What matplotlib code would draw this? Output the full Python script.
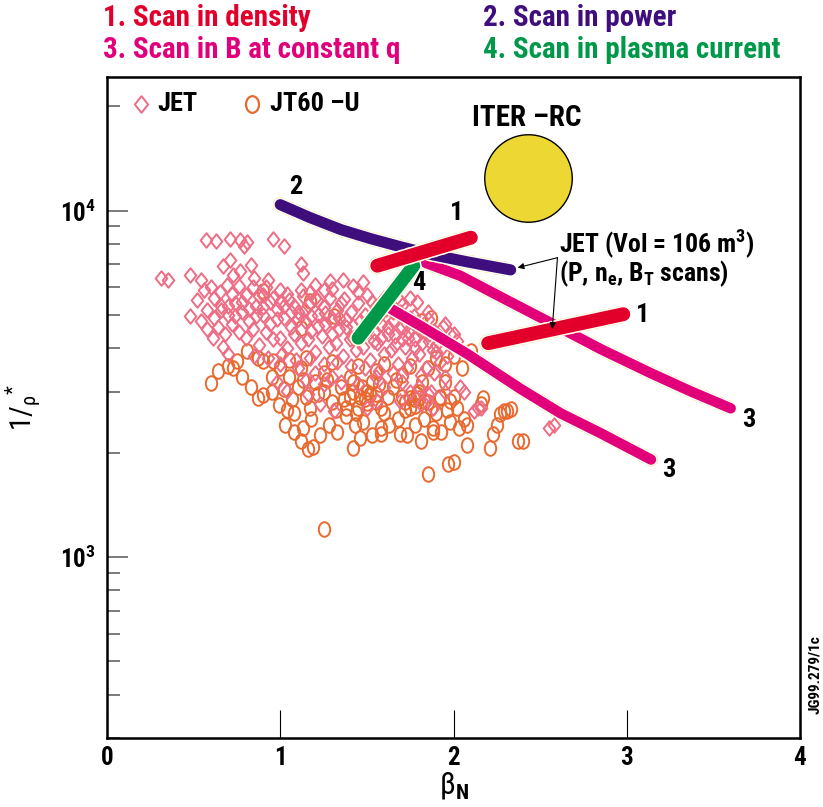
import matplotlib
matplotlib.use("Agg")
import matplotlib.pyplot as plt
from matplotlib import font_manager
from matplotlib.path import Path
from matplotlib.transforms import Affine2D
import matplotlib.patheffects as pe


def pick_font(names):
    for n in names:
        try:
            font_manager.findfont(n, fallback_to_default=False)
            return n
        except Exception:
            pass
    return "DejaVu Sans"


FONT = pick_font(["Liberation Sans Narrow", "Roboto Condensed", "Liberation Sans"])
plt.rcParams['font.family'] = [FONT, 'DejaVu Sans']
plt.rcParams['mathtext.fontset'] = 'custom'
plt.rcParams['mathtext.rm'] = FONT
plt.rcParams['mathtext.bf'] = FONT + ':bold'
plt.rcParams['mathtext.it'] = FONT + ':italic'
plt.rcParams['lines.scale_dashes'] = False

# ---- data (beta_N, 1/rho*) ----
jet_beta = [0.57, 0.63, 0.71, 0.77, 0.79, 0.81, 0.96, 1.02,
            0.31, 0.35, 0.48, 0.54, 0.56, 0.52,
            0.67, 0.71, 0.73, 0.77, 0.83, 0.85,
            0.93, 1.00, 1.12, 1.13, 1.12, 1.17, 1.29, 1.36, 1.42, 1.48, 1.50,
            0.48, 0.54, 0.58, 0.61, 0.67, 0.70,
            0.62, 0.66, 0.70, 0.74, 0.78, 0.82, 0.86, 0.90, 0.94, 0.98, 1.02,
            1.06, 1.10, 1.14, 1.18, 1.22, 1.26, 1.30, 1.34, 1.38, 1.42, 1.46,
            1.50, 1.54, 1.58, 1.62, 1.66, 1.70, 1.74, 1.78, 1.82, 1.86, 1.90,
            0.80, 0.88, 0.96, 1.04, 1.12, 1.20, 1.28, 1.36, 1.44, 1.52, 1.60,
            1.68, 1.76, 1.84, 1.92,
            0.90, 1.05, 1.20, 1.35, 1.55, 1.65, 1.75, 1.85, 1.95, 1.98,
            1.00, 1.10, 1.20, 1.30, 1.55, 1.70, 1.80, 1.95,
            1.69, 1.75, 1.79, 1.94, 2.00, 2.02, 2.06, 1.87,
            0.98, 1.04, 1.16, 1.23, 1.31, 1.50, 1.56, 1.69, 1.81, 1.88,
            2.04, 2.12, 2.16, 2.14, 2.55, 2.58,
            0.60, 0.65, 0.69, 0.72, 0.76, 0.80, 0.84, 0.88, 0.92, 0.96, 1.00,
            1.04, 1.08, 1.13, 1.16, 1.21, 1.25, 1.29, 1.33, 1.37, 1.41, 1.45,
            1.49, 1.53, 1.57, 1.61, 1.65, 1.69, 1.73, 1.77, 1.81, 1.85, 1.89,
            1.93,
            0.64, 0.68, 0.72, 0.76, 0.84, 0.92, 1.00, 1.08, 1.16, 1.24, 1.32,
            1.40, 1.48, 1.56, 1.64, 1.72, 1.80, 1.88, 1.96,
            0.85, 0.93, 1.01, 1.09, 1.17, 1.25, 1.33, 1.41, 1.49, 1.57, 1.65,
            1.73, 1.81, 1.89,
            1.15, 1.25, 1.35, 1.45, 1.60, 1.75, 1.85, 1.95,
            0.58, 0.62, 0.66, 0.70, 0.74, 0.78, 0.82, 0.86, 0.90, 0.94, 0.98,
            1.02, 1.06, 1.10, 1.14, 1.18, 1.22, 1.26, 1.30, 1.34, 1.38, 1.42,
            1.46, 1.50, 1.54, 1.58, 1.62, 1.66, 1.70, 1.74, 1.78, 1.82, 1.86,
            1.90,
            1.20, 1.25, 1.30, 1.45, 1.60, 1.70]
jet_inv_rho = [8200, 8150, 8250, 8200, 7900, 8100, 8250, 7900,
               6400, 6300, 6500, 6300, 5900, 5500,
               6900, 7200, 6500, 6700, 6950, 6400,
               6300, 5900, 7000, 6600, 5900, 5800, 6250, 6300, 6050, 6200, 5700,
               4950, 4800, 4550, 4300, 4050, 3850,
               5600, 5300, 5000, 5400, 5100, 4800, 5300, 5000, 4700, 5200, 4900,
               4600, 5100, 4800, 4500, 5000, 4700, 4400, 4900, 4600, 4300, 4800,
               4500, 4200, 4700, 4400, 4100, 4600, 4300, 4000, 4500, 4200, 3900,
               4300, 4100, 4250, 4000, 4150, 3900, 4050, 3800, 3950, 3700, 3850,
               3600, 3750, 3500, 3650,
               5700, 5500, 5600, 5400, 5300, 5100, 4900, 5100, 4700, 4400,
               3600, 3500, 3400, 3300, 3300, 3200, 3100, 3300,
               5480, 5600, 5450, 4600, 4400, 4200, 3000, 3000,
               3200, 3010, 2950, 2770, 2630, 2690, 2810, 2810, 2760, 2690,
               3100, 2630, 2690, 2700, 2350, 2400,
               6000, 5800, 6100, 5750, 6050, 5700, 6000, 5650, 6000, 5600, 5450,
               5750, 5300, 5650, 5350, 5500, 5250, 5600, 5150, 5550, 5100, 5400,
               5000, 5450, 4950, 5200, 4800, 5100, 4700, 4950, 4600, 4850, 4500,
               4300,
               4600, 4400, 4700, 4450, 4550, 4450, 4300, 4400, 4250, 4350, 4150,
               4250, 4050, 4150, 3950, 4050, 3850, 3950, 3800,
               3800, 3750, 3850, 3700, 3750, 3600, 3650, 3550, 3500, 3450, 3400,
               3500, 3350, 3400,
               3250, 3150, 3200, 3150, 3100, 3000, 2950, 3000,
               5150, 4900, 5150, 5300, 4950, 5450, 5200, 4950, 5250, 5450, 4850,
               5300, 5100, 4850, 5150, 4950, 4650, 5050, 4800, 4550, 4850, 4650,
               4450, 4700, 4450, 4300, 4600, 4350, 4250, 4500, 4250, 4150, 4400,
               4100,
               6100, 5900, 5950, 5800, 5600, 5350]

jt60_beta = [0.60, 0.64, 0.70, 0.73, 0.75,
             0.87, 0.90, 0.81, 0.87, 0.90, 0.96,
             1.08, 1.12, 1.16, 1.19,
             0.90, 1.12, 1.17, 1.31,
             1.05, 1.10, 1.15, 1.20, 1.25, 1.30, 1.35, 1.40, 1.45, 1.50,
             1.55, 1.60, 1.65, 1.70, 1.75, 1.80, 1.85, 1.90, 1.95, 2.00,
             1.08, 1.18, 1.28, 1.38, 1.48, 1.58, 1.68, 1.78, 1.88, 1.98,
             1.12, 1.25, 1.40, 1.55, 1.70, 1.85, 1.95,
             1.42, 1.47, 1.52, 1.57, 1.75, 1.79, 1.83,
             1.42, 1.46, 1.58, 1.69, 1.81, 1.88, 1.98,
             1.85, 1.97, 2.00, 2.08, 2.21, 2.23, 2.27, 2.31, 2.37,
             1.81, 1.87, 2.10, 1.92, 2.08, 2.29, 2.33, 2.40, 2.25, 2.17,
             2.16, 1.25,
             1.02, 1.07, 1.13, 1.17, 1.22, 1.27, 1.32, 1.37, 1.42, 1.44, 1.49,
             1.53, 1.58, 1.62, 1.67, 1.72, 1.77, 1.82, 1.87, 1.92, 1.96, 2.02,
             2.06,
             1.03, 1.13, 1.23, 1.33, 1.43, 1.53, 1.63, 1.73, 1.83, 1.93, 2.03,
             0.95, 1.00, 1.05, 1.15, 1.30, 1.45, 1.60, 1.75, 1.90, 2.00, 2.05,
             1.38, 1.46, 1.50, 1.55, 1.72, 1.78, 1.80,
             0.78, 0.83, 0.95, 0.99, 1.04]
jt60_inv_rho = [3175, 3440, 3560, 3500, 3680,
                2870, 2940, 3930, 3740, 3670, 3670,
                2300, 2155, 2050, 2080,
                5860, 4580, 5480, 4950,
                3300, 3100, 2900, 3200, 3000, 2800, 3100, 2900, 2700, 3000,
                2800, 2600, 3100, 2900, 2700, 3000, 2800, 2600, 3200, 2900,
                2600, 2500, 2400, 2550, 2450, 2350, 2500, 2400, 2300, 2450,
                3500, 3400, 3300, 3450, 3350, 3500, 3600,
                3000, 3100, 2950, 3150, 2870, 2950, 2820,
                2060, 2200, 2260, 2260, 2155, 2350, 2810,
                1730, 1850, 1885, 2110, 2060, 2260, 2580, 2630, 2155,
                4800, 4890, 3930, 2870, 2410, 2630, 2680, 2155, 2410, 2870,
                2760, 1205,
                3050, 2850, 3250, 2700, 2950, 3250, 2650, 2850, 3200, 2600, 2850,
                3200, 2700, 2900, 3250, 2650, 2850, 3200, 2700, 2900, 2650, 2700,
                2500,
                2400, 2350, 2250, 2300, 2400, 2250, 2400, 2250, 2500, 2300, 2350,
                3300, 3500, 3700, 3750, 3650, 3550, 3600, 3550, 3750, 3800, 3500,
                2700, 2900, 2780, 2950, 2800, 2720, 2880,
                3300, 3100, 3000, 2750, 2650]

# scans
power_beta = [1.00, 1.17, 1.35, 1.52, 1.69, 1.88, 2.08, 2.33]
power_inv_rho = [10400, 9550, 8810, 8300, 7870, 7450, 7110, 6740]
dens_hi_beta = [1.56, 2.10]
dens_hi_inv_rho = [6930, 8350]
dens_lo_beta = [2.20, 2.98]
dens_lo_inv_rho = [4140, 5020]
curr_beta = [1.45, 1.77]
curr_inv_rho = [4285, 6930]
bt_hi_beta = [1.84, 2.04, 2.27, 2.54, 2.85, 3.14, 3.37, 3.60]
bt_hi_inv_rho = [7060, 6480, 5640, 4800, 3980, 3390, 3005, 2685]
bt_lo_beta = [1.64, 1.81, 2.08, 2.39, 2.62, 2.85, 3.14]
bt_lo_inv_rho = [5200, 4645, 3855, 3050, 2595, 2275, 1910]

iter_beta, iter_inv_rho = 2.43, 12390

C_DENS = '#E2002B'
C_POW = '#3F0E7D'
C_BT = '#E2007A'
C_CUR = '#00994A'
C_JET = '#EE6C84'
C_JT60 = '#E8692F'

fig = plt.figure(figsize=(8.23, 8.07), dpi=100)
ax = fig.add_axes([107 / 823, 1 - 738 / 807, 693 / 823, 661 / 807])
ax.set_yscale('log')
ax.set_xlim(0, 4)
ax.set_ylim(300, 24300)

ell = Path.unit_circle().transformed(Affine2D().scale(0.78, 1.0))
dia = Path([(0, 1), (0.8, 0), (0, -1), (-0.8, 0), (0, 1)],
           [Path.MOVETO, Path.LINETO, Path.LINETO, Path.LINETO, Path.CLOSEPOLY])

ax.plot(jt60_beta, jt60_inv_rho, ls='none', marker=ell, ms=10.5, mfc='none',
        mec=C_JT60, mew=1.4)
ax.plot(jet_beta, jet_inv_rho, ls='none', marker=dia, ms=10.5, mfc='none',
        mec=C_JET, mew=1.4)


def scan(xs, ys, color, lw):
    ax.plot(xs, ys, color='#F0DC50', lw=lw + 2.5, dashes=(1, 5),
            solid_capstyle='round', dash_capstyle='round', solid_joinstyle='round')
    ax.plot(xs, ys, color=color, lw=lw, solid_capstyle='round',
            solid_joinstyle='round',
            path_effects=[pe.Stroke(linewidth=lw + 2, foreground='white'), pe.Normal()])


scan(bt_lo_beta, bt_lo_inv_rho, C_BT, 7.5)
scan(bt_hi_beta, bt_hi_inv_rho, C_BT, 7.5)
scan(power_beta, power_inv_rho, C_POW, 8)
scan(curr_beta, curr_inv_rho, C_CUR, 9.5)
scan(dens_hi_beta, dens_hi_inv_rho, C_DENS, 10)
scan(dens_lo_beta, dens_lo_inv_rho, C_DENS, 10)

ax.plot([iter_beta], [iter_inv_rho], marker='o', ms=63, mfc='#EDD733',
        mec='black', mew=1.0, ls='none')

lab = dict(fontsize=19, fontweight='bold', ha='center', va='center')
ax.text(1.087, 11660, '2', **lab)
ax.text(2.017, 9860, '1', **lab)
ax.text(1.80, 6180, '4', **lab)
ax.text(3.09, 5000, '1', **lab)
ax.text(3.705, 2490, '3', **lab)
ax.text(3.243, 1786, '3', **lab)
ax.text(2.42, 18500, 'ITER \u2013RC', fontsize=21, fontweight='bold',
        ha='center', va='center')

ax.text(2.61, 8000, r'JET (Vol = 106 m$^{\mathbf{3}}$)', fontsize=18.5,
        fontweight='bold', ha='left', va='center')
ax.text(2.61, 6560, r'(P, n$_{\mathbf{e}}$, B$_{\mathbf{T}}$ scans)', fontsize=18.5,
        fontweight='bold', ha='left', va='center')
for tx, ty in [(2.37, 6840), (2.57, 4550)]:
    ax.annotate('', xy=(tx, ty), xytext=(2.60, 7310),
                arrowprops=dict(arrowstyle='-|>', color='black', lw=0.8,
                                mutation_scale=9, shrinkA=0, shrinkB=0))

# legend
ax.plot([0.049], [0.959], transform=ax.transAxes, marker=dia, ms=12, mfc='none',
        mec=C_JET, mew=1.4, ls='none', clip_on=False)
ax.text(0.072, 0.959, 'JET', transform=ax.transAxes, fontsize=19,
        fontweight='bold', ha='left', va='center')
ax.plot([0.209], [0.959], transform=ax.transAxes, marker=ell, ms=12, mfc='none',
        mec=C_JT60, mew=1.6, ls='none', clip_on=False)
ax.text(0.235, 0.959, 'JT60 \u2013U', transform=ax.transAxes, fontsize=19,
        fontweight='bold', ha='left', va='center')

# axes styling
for s in ax.spines.values():
    s.set_linewidth(1.8)
ax.set_xticks([0, 1, 2, 3, 4])
ax.set_xticklabels(['0', '1', '2', '3', '4'], fontsize=18, fontweight='bold')
ax.tick_params(axis='x', direction='in', length=20, width=0.8, pad=6)
ax.set_yticks([1e3, 1e4])
ax.set_yticklabels([r'$\mathbf{10^{3}}$', r'$\mathbf{10^{4}}$'], fontsize=18)
ax.yaxis.set_minor_formatter(plt.NullFormatter())
ax.tick_params(axis='y', which='major', direction='in', length=15, width=1.1,
               color='#555555', pad=8)
ax.tick_params(axis='y', which='minor', direction='in', length=9.5, width=1.1,
               color='#555555')

ax.set_xlabel(r'$\mathrm{\beta}_{\mathbf{N}}$', fontsize=22, labelpad=0)
ax.set_ylabel(r'$1/_{\mathrm{\rho}}{}^{*}$', fontsize=21, labelpad=12)

# header
hdr = dict(fontsize=21, fontweight='bold', ha='left', va='center')
fig.text(103 / 823, 1 - 18 / 807, '1. Scan in density', color=C_DENS, **hdr)
fig.text(483 / 823, 1 - 18 / 807, '2. Scan in power', color=C_POW, **hdr)
fig.text(103 / 823, 1 - 50 / 807, '3. Scan in B at constant q', color=C_BT, **hdr)
fig.text(483 / 823, 1 - 50 / 807, '4. Scan in plasma current', color=C_CUR, **hdr)

fig.text(815 / 823, 1 - 675 / 807, 'JG99.279/1c', fontsize=11, fontweight='bold',
         rotation=90, ha='center', va='center')

fig.savefig('out.png', dpi=100)
